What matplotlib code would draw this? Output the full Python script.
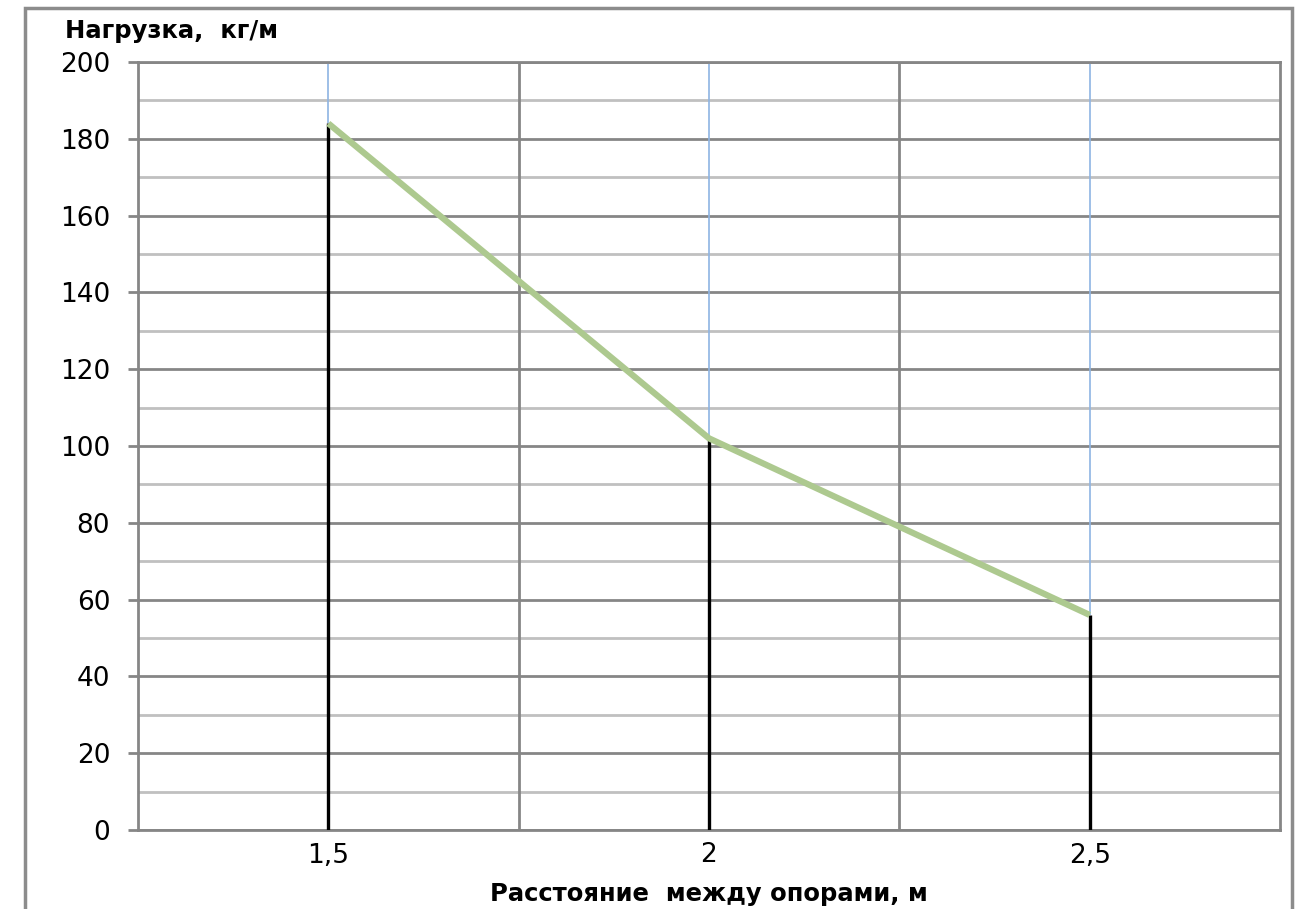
import matplotlib.pyplot as plt
from matplotlib.patches import Rectangle
import numpy as np

# данные
categories = ['1,5', '2', '2,5']
load = [184, 102, 56]
y_ticks = list(range(0, 201, 20))
y_minor = list(range(10, 200, 20))

fig = plt.figure(figsize=(13.03, 9.09), dpi=100)
ax = fig.add_axes([138 / 1303, 1 - 830 / 909, (1280 - 138) / 1303, (830 - 62) / 909])

x = np.arange(len(categories))
ax.set_xlim(-0.5, len(categories) - 0.5)
ax.set_ylim(0, 200)

# сетка
for v in y_minor:
    ax.axhline(v, color='#c0c0c0', lw=2, zorder=1)
for v in y_ticks:
    ax.axhline(v, color='#868686', lw=2, zorder=1.5)
for b in np.arange(0.5, len(categories) - 1, 1.0):
    ax.axvline(b, color='#868686', lw=2, zorder=1.5)

# вертикальные линии: голубые сверху, черные снизу
ax.vlines(x, load, 200, color='#8eb4e3', lw=1.2, zorder=2)
ax.vlines(x, 0, load, color='black', lw=2.4, zorder=3)

ax.plot(x, load, color='#adc98f', lw=4.5, solid_capstyle='butt', zorder=4)

ax.set_xticks(x)
ax.set_xticklabels(categories)
ax.set_yticks(y_ticks)
ax.tick_params(axis='x', length=0, labelsize=19, pad=9)
ax.tick_params(axis='y', length=7, width=2, color='#868686', labelsize=19, pad=13)
for s in ax.spines.values():
    s.set_color('#868686')
    s.set_linewidth(2)

ax.set_xlabel('Расстояние  между опорами, м', fontsize=17.5, fontweight='bold', labelpad=10)
fig.text(65 / 1303, 1 - 31 / 909, 'Нагрузка,  кг/м', fontsize=17.5, fontweight='bold',
         va='center', ha='left')

# рамка вокруг диаграммы
fig.patches.append(Rectangle((25 / 1303, -0.05), (1292 - 25) / 1303, 1.05 - 8 / 909,
                             transform=fig.transFigure, fill=False, ec='#8c8c8c', lw=2.5))

fig.savefig('out.png', dpi=100)
